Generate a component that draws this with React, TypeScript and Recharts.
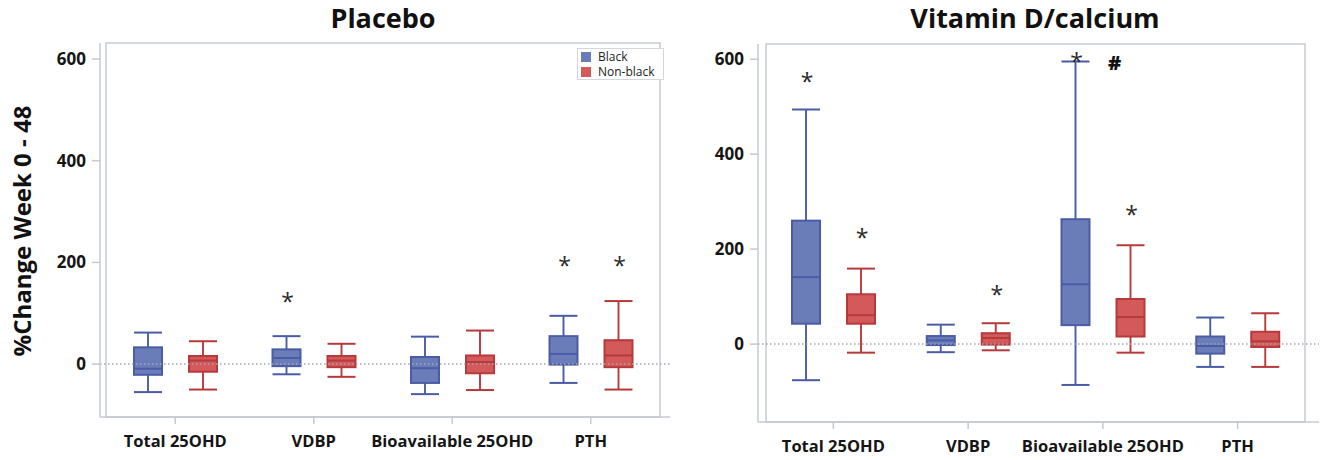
import React from 'react';
import { ComposedChart, Bar, XAxis, YAxis, ReferenceLine, ReferenceArea, Legend } from 'recharts';

const FONT = '"Open Sans", "DejaVu Sans", sans-serif';

const categories = ['Total 25OHD', 'VDBP', 'Bioavailable 25OHD', 'PTH'];
const yTicks = [0, 200, 400, 600];

// [min, q1, median, q3, max]
const placeboBlack = [
  [-55, -21, -9, 33, 62],
  [-20, -4, 12, 29, 55],
  [-59, -37, -8, 14, 54],
  [-37, -1, 20, 55, 95],
];
const placeboNonBlack = [
  [-50, -15, 7, 16, 45],
  [-25, -6, 7, 16, 40],
  [-51, -18, 4, 17, 66],
  [-50, -6, 17, 47, 124],
];
const placeboBlackStar = [null, 131, null, 201];
const placeboNonBlackStar = [null, null, null, 201];
const placeboNonBlackHash = [null, null, null, null];

const vitdBlack = [
  [-76, 43, 141, 260, 494],
  [-17, -2, 8, 17, 41],
  [-86, 40, 126, 263, 595],
  [-48, -20, -4, 16, 56],
];
const vitdNonBlack = [
  [-18, 43, 61, 105, 159],
  [-13, -1, 13, 23, 44],
  [-18, 16, 57, 95, 208],
  [-48, -6, 6, 26, 65],
];
const vitdBlackStar = [561, null, 604, null];
const vitdNonBlackStar = [234, 112, 282, null];
const vitdNonBlackHash = [null, null, 591, null];

const BLUE_FILL = '#6b7db8';
const BLUE_STROKE = '#4a5ca6';
const RED_FILL = '#d4595a';
const RED_STROKE = '#b63a3b';
const FRAME = '#c6cad0';

type Row = {
  cat: string;
  b: number[];
  n: number[];
  bStar: number | null;
  nStar: number | null;
  nHash: number | null;
};

function buildRows(black: number[][], non: number[][], bStar: (number | null)[], nStar: (number | null)[], nHash: (number | null)[]): Row[] {
  return categories.map((c, i) => ({ cat: c, b: black[i], n: non[i], bStar: bStar[i], nStar: nStar[i], nHash: nHash[i] }));
}

const placeboRows = buildRows(placeboBlack, placeboNonBlack, placeboBlackStar, placeboNonBlackStar, placeboNonBlackHash);
const vitdRows = buildRows(vitdBlack, vitdNonBlack, vitdBlackStar, vitdNonBlackStar, vitdNonBlackHash);

function makeShape(statKey: 'b' | 'n', starKey: 'bStar' | 'nStar', hashKey: 'nHash' | null, fill: string, stroke: string) {
  return (props: any) => {
    const { x, y, width, height, payload } = props;
    if (!payload || x == null || y == null) return <g />;
    const s: number[] = payload[statKey];
    const lo = s[0];
    const hi = s[4];
    const top = Math.min(y, y + height);
    const bottom = Math.max(y, y + height);
    const px = (v: number) => top + ((hi - v) / (hi - lo)) * (bottom - top);
    const cx = x + width / 2;
    const l = x;
    const r = x + width;
    const star = payload[starKey];
    const hash = hashKey ? payload[hashKey] : null;
    return (
      <g>
        <line x1={cx} x2={cx} y1={px(s[4])} y2={px(s[3])} stroke={stroke} strokeWidth={1.9} />
        <line x1={cx} x2={cx} y1={px(s[1])} y2={px(s[0])} stroke={stroke} strokeWidth={1.9} />
        <line x1={l} x2={r} y1={px(s[4])} y2={px(s[4])} stroke={stroke} strokeWidth={2} />
        <line x1={l} x2={r} y1={px(s[0])} y2={px(s[0])} stroke={stroke} strokeWidth={2} />
        <rect x={l} y={px(s[3])} width={width} height={px(s[1]) - px(s[3])} fill={fill} stroke={stroke} strokeWidth={2} />
        <line x1={l} x2={r} y1={px(s[2])} y2={px(s[2])} stroke={stroke} strokeWidth={2} />
        {star != null && (
          <text x={cx + 1} y={px(star) + 12.5} textAnchor="middle" fontSize={23} fill="#2a2a2a" fontFamily={FONT}>*</text>
        )}
        {hash != null && (
          <text x={cx - 16} y={px(hash) + 7} textAnchor="middle" fontSize={20} fontWeight={800} fill="#111" fontFamily={FONT}>#</text>
        )}
      </g>
    );
  };
}

const blackShape = makeShape('b', 'bStar', null, BLUE_FILL, BLUE_STROKE);
const nonBlackShape = makeShape('n', 'nStar', 'nHash', RED_FILL, RED_STROKE);

const tickStyle = { fill: '#151515', fontSize: 16.5, fontWeight: 700, fontFamily: FONT };
const yTickStyle = { fill: '#151515', fontSize: 17, fontWeight: 700, fontFamily: FONT };

function LegendBox(props: any) {
  const payload = props.payload || [];
  return (
    <div style={{ border: '1px solid #d3d6db', background: '#fff', padding: '0px 4px 0px 3px', fontFamily: FONT, fontSize: 12, color: '#222', lineHeight: '15px', width: 78 }}>
      {payload.map((p: any) => (
        <div key={p.value} style={{ display: 'flex', alignItems: 'center', height: 15 }}>
          <span style={{ display: 'inline-block', width: 10, height: 10, background: p.color, marginRight: 7 }} />
          <span>{p.value}</span>
        </div>
      ))}
    </div>
  );
}

function Panel(props: { rows: Row[]; width: number; margin: any; yWidth: number; xHeight: number; domain: [number, number]; padding: { left: number; right: number }; legend?: boolean }) {
  const { rows, width, margin, yWidth, xHeight, domain, padding, legend } = props;
  return (
    <ComposedChart width={width} height={460} data={rows} margin={margin} barSize={28} barGap={27}>
      <XAxis
        dataKey="cat"
        interval={0}
        padding={padding}
        height={xHeight}
        tick={tickStyle}
        tickSize={7}
        tickMargin={11}
        axisLine={{ stroke: FRAME, strokeWidth: 1.5 }}
        tickLine={{ stroke: FRAME, strokeWidth: 1.5 }}
      />
      <YAxis
        type="number"
        domain={domain}
        ticks={yTicks}
        width={yWidth}
        tick={yTickStyle}
        tickSize={8}
        tickMargin={6}
        axisLine={{ stroke: FRAME, strokeWidth: 1.5 }}
        tickLine={{ stroke: FRAME, strokeWidth: 1.5 }}
        allowDataOverflow
      />
      <ReferenceArea y1={domain[0]} y2={domain[1]} fill="none" fillOpacity={0} stroke={FRAME} strokeWidth={1.5} ifOverflow="visible" />
      <ReferenceLine y={0} stroke="#a3a7ad" strokeWidth={1.5} strokeDasharray="1.5 2.5" />
      {legend && (
        <Legend
          layout="vertical"
          align="center"
          verticalAlign="middle"
          content={<LegendBox />}
          wrapperStyle={{ top: 48, left: 577, right: 'auto', bottom: 'auto', width: 'auto', height: 'auto' }}
        />
      )}
      <Bar dataKey={(r: Row) => [r.b[0], r.b[4]]} name="Black" fill={BLUE_FILL} shape={blackShape} isAnimationActive={false} />
      <Bar dataKey={(r: Row) => [r.n[0], r.n[4]]} name="Non-black" fill={RED_FILL} shape={nonBlackShape} isAnimationActive={false} />
    </ComposedChart>
  );
}

export default function App() {
  return (
    <div style={{ position: 'absolute', left: 0, top: 0, width: 1324, height: 460, background: '#fff', overflow: 'hidden' }}>
      <div style={{ position: 'absolute', left: 0, top: 0 }}>
        <Panel
          rows={placeboRows}
          width={680}
          margin={{ top: 43, right: 10, bottom: 0, left: 0 }}
          yWidth={100}
          xHeight={43}
          domain={[-104, 631.5]}
          padding={{ left: 6, right: 10 }}
          legend
        />
      </div>
      <div style={{ position: 'absolute', left: 680, top: 0 }}>
        <Panel
          rows={vitdRows}
          width={644}
          margin={{ top: 44, right: 5, bottom: 0, left: 0 }}
          yWidth={78}
          xHeight={38}
          domain={[-164, 632]}
          padding={{ left: 8, right: 14 }}
        />
      </div>
      <svg width={1324} height={460} style={{ position: 'absolute', left: 0, top: 0, pointerEvents: 'none' }}>
        <text x={383} y={28} textAnchor="middle" fontSize={27} fontWeight={700} fill="#111" fontFamily={FONT}>Placebo</text>
        <text x={1035} y={28} textAnchor="middle" fontSize={27} fontWeight={700} fill="#111" fontFamily={FONT}>Vitamin D/calcium</text>
        <text x={22} y={239.5} textAnchor="middle" fontSize={24} fontWeight={700} fill="#111" fontFamily={FONT} transform="rotate(-90, 22, 231)">%Change Week 0 - 48</text>
      </svg>
    </div>
  );
}
